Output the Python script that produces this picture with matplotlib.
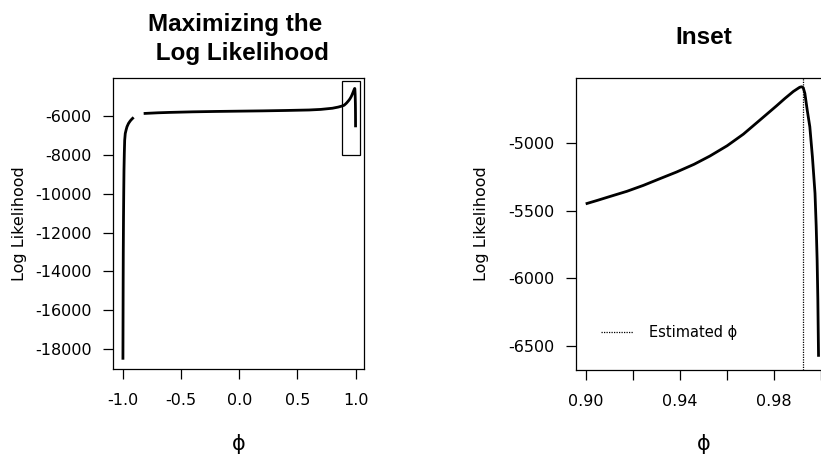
import numpy as np
import matplotlib
matplotlib.use("Agg")
import matplotlib.pyplot as plt
from matplotlib.patches import Rectangle
from matplotlib.lines import Line2D

# ---------------- data ----------------
# branch near phi = -1
phi_low = [-0.998, -0.997, -0.996, -0.995, -0.993, -0.991, -0.989, -0.986,
           -0.983, -0.978, -0.970, -0.963, -0.950, -0.935, -0.920, -0.906]
ll_low = [-18550, -16500, -14500, -13000, -11200, -9900, -8800, -7900,
          -7250, -6900, -6700, -6550, -6380, -6250, -6150, -6070]

# middle branch
phi_mid = [-0.82, -0.70, -0.60, -0.40, -0.20, 0.00, 0.20, 0.40, 0.60,
           0.70, 0.80, 0.85, 0.88]
ll_mid = [-5870, -5835, -5815, -5785, -5765, -5750, -5735, -5715, -5690,
          -5660, -5600, -5540, -5490]

# inset region (phi >= 0.9)
phi_ins = [0.900, 0.905, 0.910, 0.9175, 0.9245, 0.931, 0.9386, 0.946, 0.9527,
           0.960, 0.9669, 0.9739, 0.981, 0.9845, 0.9881, 0.990, 0.9908, 0.9916,
           0.9923, 0.993, 0.994, 0.9951, 0.9962, 0.9973, 0.9978, 0.9982,
           0.9985, 0.9988]
ll_ins = [-5448, -5422, -5395, -5355, -5311, -5265, -5212, -5155, -5094,
          -5018, -4932, -4828, -4722, -4668, -4616, -4594, -4585, -4581,
          -4588, -4630, -4754, -4877, -5100, -5370, -5610, -5863,
          -6150, -6580]

phi_hat = 0.9922
inset_box = dict(x0=0.885, x1=1.04, y0=-8020, y1=-4210)

left_xticks = [-1.0, -0.5, 0.0, 0.5, 1.0]
left_xlabels = ["-1.0", "-0.5", "0.0", "0.5", "1.0"]
left_yticks = [-18000, -16000, -14000, -12000, -10000, -8000, -6000]
left_ylabels = ["-18000", "-16000", "-14000", "-12000", "-10000", "-8000", "-6000"]

right_xticks = [0.90, 0.92, 0.94, 0.96, 0.98, 1.00]
right_xlabels = ["0.90", "", "0.94", "", "0.98", ""]
right_yticks = [-6500, -6000, -5500, -5000]
right_ylabels = ["-6500", "-6000", "-5500", "-5000"]

# ---------------- figure ----------------
W, H = 821, 455
fig = plt.figure(figsize=(W / 100, H / 100), dpi=100)

TICKFONT = dict(family="DejaVu Sans", size=11.5)
LABFONT = dict(family="DejaVu Sans", size=11.5)
TITLEFONT = dict(family="Liberation Sans", size=17.5, weight="bold")
PHIFONT = dict(family="DejaVu Sans", size=15)


def px_axes(l, t, r, b):
    return [l / W, (H - b) / H, (r - l) / W, (b - t) / H]


ax1 = fig.add_axes(px_axes(112.7, 77.7, 364.3, 369.3))
ax2 = fig.add_axes(px_axes(575.7, 77.7, 831.5, 370.0))

for ax in (ax1, ax2):
    for s in ax.spines.values():
        s.set_linewidth(0.9)
        s.set_color("black")
    ax.tick_params(direction="out", length=7.2, width=0.9, pad=8,
                   colors="black")
    ax.tick_params(axis="x", pad=10)

# ---- left panel ----
ax1.plot(phi_low, ll_low, color="black", lw=2, solid_capstyle="butt")
ax1.plot(phi_mid + phi_ins, ll_mid + ll_ins, color="black", lw=2,
         solid_capstyle="butt")
ax1.add_patch(Rectangle((inset_box["x0"], inset_box["y0"]),
                        inset_box["x1"] - inset_box["x0"],
                        inset_box["y1"] - inset_box["y0"],
                        fill=False, lw=0.9, edgecolor="black"))
ax1.set_xlim(-1.0858, 1.0738)
ax1.set_ylim(-19045, -4027)
ax1.set_xticks(left_xticks)
ax1.set_xticklabels(left_xlabels, **TICKFONT)
ax1.set_yticks(left_yticks)
ax1.set_yticklabels(left_ylabels, **TICKFONT)
ax1.set_ylabel("Log Likelihood", **LABFONT)
ax1.yaxis.label.set_va("center")
ax1.yaxis.set_label_coords(-0.372, 0.5)
ax1.set_xlabel("ϕ", **PHIFONT)
ax1.xaxis.label.set_va("baseline")
ax1.xaxis.set_label_coords(0.5, -0.2757)
ax1.set_title("Maximizing the \n Log Likelihood", y=1.0607, pad=0,
              va="baseline", linespacing=1.35, **TITLEFONT)

# ---- right panel (inset) ----
ax2.plot(phi_ins, ll_ins, color="black", lw=2, solid_capstyle="butt")
ax2.axvline(phi_hat, color="black", lw=0.9, ls=(0, (1, 1)))
ax2.set_xlim(0.89576, 1.0043)
ax2.set_ylim(-6678, -4514)
ax2.set_xticks(right_xticks)
ax2.set_xticklabels(right_xlabels, **TICKFONT)
ax2.set_yticks(right_yticks)
ax2.set_yticklabels(right_ylabels, **TICKFONT)
ax2.set_ylabel("Log Likelihood", **LABFONT)
ax2.yaxis.label.set_va("center")
ax2.yaxis.set_label_coords(-0.3675, 0.5)
ax2.set_xlabel("ϕ", **PHIFONT)
ax2.xaxis.label.set_va("baseline")
ax2.xaxis.set_label_coords(0.5, -0.273)
ax2.set_title("Inset", y=1.1143, pad=0, va="baseline", **TITLEFONT)

handle = Line2D([], [], color="black", lw=0.9, ls=(0, (1, 1)))
ax2.legend([handle], ["Estimated ϕ"], loc="center left",
           bbox_to_anchor=(0.099, 0.128), frameon=False, borderpad=0,
           borderaxespad=0, handlelength=2.2, handletextpad=1.1,
           prop=dict(family="DejaVu Sans", size=10.5))

fig.savefig("out.png", dpi=100)
